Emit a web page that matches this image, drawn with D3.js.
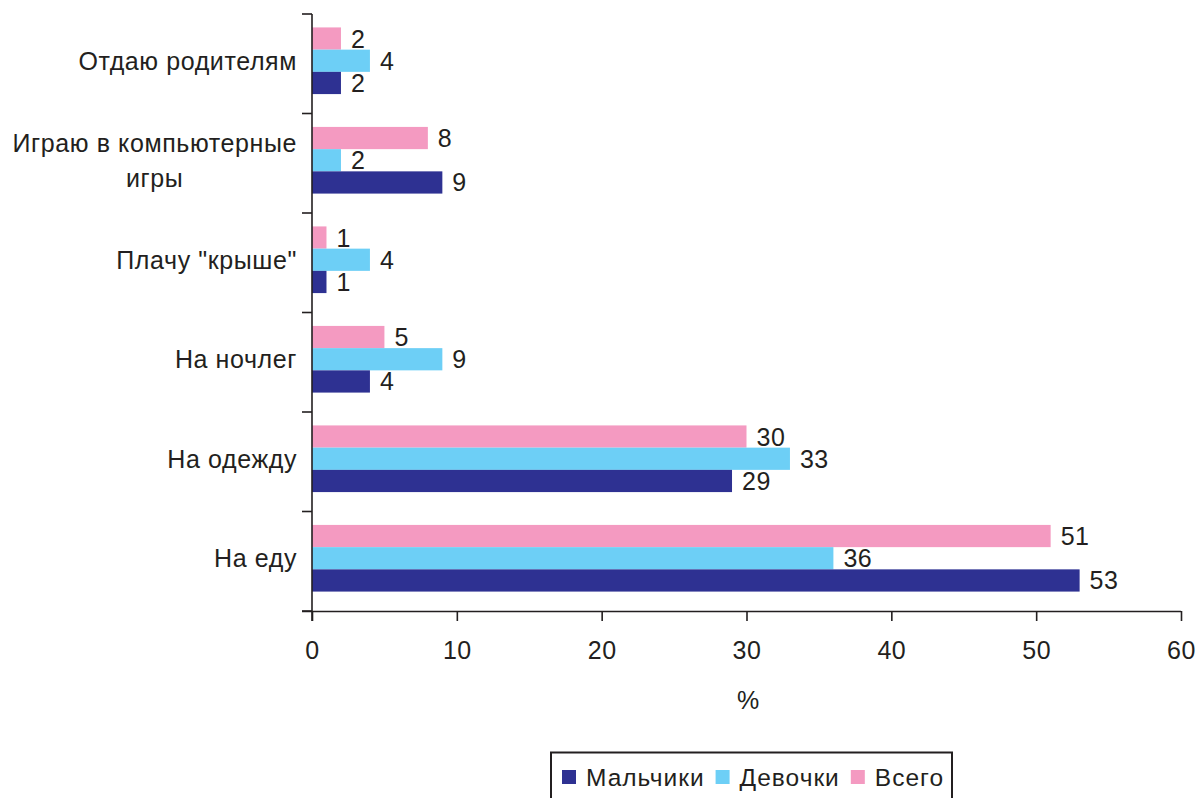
<!DOCTYPE html>
<html><head><meta charset="utf-8">
<script src="https://cdn.jsdelivr.net/npm/d3@7"></script>
<style>
html,body{margin:0;padding:0;background:#fff;}
svg{display:block;font-family:"Liberation Sans",Arial,Helvetica,sans-serif;}
</style></head>
<body>
<svg id="chart" width="1200" height="798"></svg>
<script>
const categories = ["Отдаю родителям", "Играю в компьютерные игры", "Плачу \"крыше\"", "На ночлег", "На одежду", "На еду"];
const categoryLines = [["Отдаю родителям"], ["Играю в компьютерные", "игры"], ["Плачу \"крыше\""], ["На ночлег"], ["На одежду"], ["На еду"]];
const seriesNames = ["Всего", "Девочки", "Мальчики"];
const boys = [2, 9, 1, 4, 29, 53];
const girls = [4, 2, 4, 9, 33, 36];
const total = [2, 8, 1, 5, 30, 51];
const xTicks = [0, 10, 20, 30, 40, 50, 60];
const legendNames = ["Мальчики", "Девочки", "Всего"];
const colors = {"Мальчики": "#2E3192", "Девочки": "#6DCFF6", "Всего": "#F49AC1"};
const valuesBySeries = {"Мальчики": boys, "Девочки": girls, "Всего": total};
const xTitle = "%";

(function () {
const svg = d3.select("#chart");
const textColor = "#231F20";
const mLeft = 312, mRight = 1181, mTop = 14, mBottom = 611;

const x = d3.scaleLinear().domain([0, 60]).range([mLeft, mRight]);
const y = d3.scaleBand().domain(categories).range([mTop, mBottom]).paddingInner(0).paddingOuter(0);
const yInner = d3.scaleBand().domain(seriesNames).range([0, y.bandwidth() * 0.67]);
const groupOffset = (y.bandwidth() - y.bandwidth() * 0.67) / 2 - 3;

// bars
const g = svg.append("g");
categories.forEach((c, i) => {
  seriesNames.forEach(s => {
    const v = valuesBySeries[s][i];
    const yy = y(c) + groupOffset + yInner(s);
    g.append("rect")
      .attr("x", x(0)).attr("y", yy)
      .attr("width", x(v) - x(0)).attr("height", yInner.bandwidth())
      .attr("fill", colors[s]);
    g.append("text")
      .attr("x", x(v) + 10).attr("y", yy + yInner.bandwidth() / 2)
      .attr("dy", "0.36em")
      .attr("font-size", 25).attr("letter-spacing", 0.5).attr("fill", textColor)
      .text(v);
  });
});

// x axis
const xAxis = d3.axisBottom(x).tickValues(xTicks).tickSize(10).tickSizeOuter(0).tickPadding(20);
const gx = svg.append("g").attr("transform", `translate(0,${mBottom})`).call(xAxis);
gx.select(".domain").attr("stroke", textColor).attr("stroke-width", 1.6)
  .attr("d", `M${mLeft - 10},0.5H${mRight}`);
gx.selectAll(".tick line").attr("stroke", textColor).attr("stroke-width", 1.6);
gx.selectAll(".tick text").attr("font-size", 25).attr("letter-spacing", 0.5).attr("fill", textColor)
  .attr("font-family", "Liberation Sans, Arial, sans-serif");

// y axis (boundary ticks)
const boundaries = categories.map(c => y(c)).concat([mBottom]);
svg.append("line").attr("x1", mLeft).attr("x2", mLeft).attr("y1", mTop).attr("y2", mBottom + 10)
  .attr("stroke", textColor).attr("stroke-width", 1.6);
svg.selectAll(".ytick").data(boundaries).enter().append("line")
  .attr("x1", mLeft - 10).attr("x2", mLeft).attr("y1", d => d).attr("y2", d => d)
  .attr("stroke", textColor).attr("stroke-width", 1.6);

// category labels
categories.forEach((c, i) => {
  const lines = categoryLines[i];
  const cy = y(c) + y.bandwidth() / 2 - 3;
  const lh = 35;
  const t = svg.append("text").attr("font-size", 25).attr("letter-spacing", 0.6).attr("fill", textColor)
    .attr("text-anchor", "middle");
  const tmp = svg.append("text").attr("font-size", 25).attr("letter-spacing", 0.6).text(lines[0]);
  let maxW = 0;
  lines.forEach(l => { tmp.text(l); maxW = Math.max(maxW, tmp.node().getComputedTextLength()); });
  tmp.remove();
  const cx = 297 - maxW / 2;
  lines.forEach((l, k) => {
    t.append("tspan").attr("x", cx)
      .attr("y", cy + (k - (lines.length - 1) / 2) * lh)
      .attr("dy", "0.36em").text(l);
  });
});

// x title
svg.append("text").attr("x", 748).attr("y", 700).attr("dy", "0.36em")
  .attr("text-anchor", "middle").attr("font-size", 25).attr("fill", textColor).text(xTitle);

// legend
const lg = svg.append("g");
lg.append("rect").attr("x", 551).attr("y", 752.5).attr("width", 401).attr("height", 60)
  .attr("fill", "#fff").attr("stroke", textColor).attr("stroke-width", 2);
let lx = 562;
legendNames.forEach(n => {
  lg.append("rect").attr("x", lx).attr("y", 770).attr("width", 14).attr("height", 14).attr("fill", colors[n]);
  const tt = lg.append("text").attr("x", lx + 24).attr("y", 777).attr("dy", "0.36em")
    .attr("font-size", 24.5).attr("letter-spacing", 1.0).attr("fill", textColor).text(n);
  lx += 24 + tt.node().getComputedTextLength() + 11;
});
})();
</script>
</body></html>
